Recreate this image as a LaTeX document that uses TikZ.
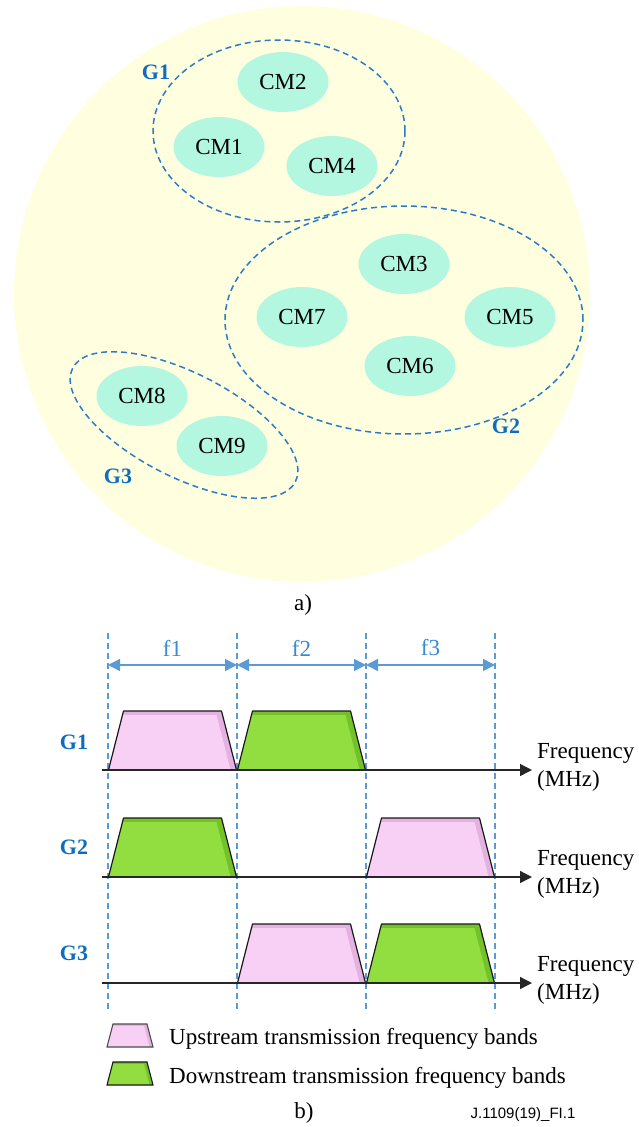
\documentclass[tikz,border=0pt]{standalone}
\usepackage{fontspec}
\setmainfont{Liberation Serif}
\newfontfamily\idfont{Liberation Sans}
\usetikzlibrary{shapes.geometric,arrows.meta}
\definecolor{bgyellow}{HTML}{FFFFE0}
\definecolor{mint}{HTML}{B4F7E0}
\definecolor{grpblue}{HTML}{2A7CC7}
\definecolor{lblblue}{HTML}{0F6DBF}
\definecolor{guideblue}{HTML}{5B9BD5}
\definecolor{ftext}{HTML}{3A8AD0}
\definecolor{pinklight}{HTML}{F8D0F6}
\definecolor{pinkdark}{HTML}{E4B2E0}
\definecolor{greenlight}{HTML}{92DE40}
\definecolor{greendark}{HTML}{74C22A}
\newcommand{\trapband}[4]{%
  \fill[#3] (#1,#2) -- ++(15,59) -- ++(98,0) -- ++(15,-59) -- cycle;
  \fill[#4] (#1,#2) -- ++(14,55) -- ++(94,0) -- ++(14,-55) -- cycle;
  \draw[bandline] (#1,#2) -- ++(15,59) -- ++(98,0) -- ++(15,-59) -- cycle;
}
\begin{document}
\begin{tikzpicture}[x=1pt,y=1pt,
 cmnode/.style={ellipse, fill=mint, minimum width=91pt, minimum height=60pt, inner sep=0pt, font=\fontsize{23}{27}\selectfont},
 grp/.style={ellipse, draw=grpblue, line width=1.5pt, dash pattern=on 6pt off 4pt, inner sep=0pt},
 glabel/.style={text=lblblue, font=\fontsize{22}{26}\selectfont\bfseries, inner sep=0pt},
 txt/.style={font=\fontsize{23}{27}\selectfont, inner sep=0pt},
 flabel/.style={font=\fontsize{23}{28}\selectfont, inner sep=0pt, align=left, anchor=west},
 guide/.style={draw=guideblue, line width=1.2pt, dash pattern=on 6pt off 4pt},
 spanarrow/.style={draw=guideblue, line width=1.5pt, {Triangle[length=12pt,width=12pt]}-{Triangle[length=12pt,width=12pt]}},
 axisarrow/.style={draw=black!85, line width=1.3pt, -{Triangle[length=12pt,width=12pt]}},
 bandline/.style={draw=black!90, line width=1.2pt, line join=round}
]
\useasboundingbox (0,0) rectangle (638,-1127);

% ---------- part a) ----------
\fill[bgyellow] (302,-294) circle (288);

\node[grp, minimum width=252pt, minimum height=182pt] (G1e) at (279,-131) {};
\node[grp, minimum width=358pt, minimum height=228pt] (G2e) at (404,-320) {};
\node[grp, minimum width=250pt, minimum height=104pt, rotate=-27] (G3e) at (184,-425) {};

\node[cmnode] (CM2) at (283,-82) {CM2};
\node[cmnode] (CM1) at (219,-147) {CM1};
\node[cmnode] (CM4) at (332,-166) {CM4};
\node[cmnode] (CM3) at (404,-264) {CM3};
\node[cmnode] (CM7) at (302,-317) {CM7};
\node[cmnode] (CM5) at (510,-317) {CM5};
\node[cmnode] (CM6) at (410,-366) {CM6};
\node[cmnode] (CM8) at (142,-396) {CM8};
\node[cmnode] (CM9) at (222,-446) {CM9};

\node[glabel] (G1a) at (156,-72) {G1};
\node[glabel] (G2a) at (506,-426) {G2};
\node[glabel] (G3a) at (118,-476) {G3};

\node[txt] (capa) at (303,-605) {a)};

% ---------- part b) ----------
\foreach \i/\x in {1/108,2/237,3/366,4/495}{
  \coordinate (t\i) at (\x,-633);
  \coordinate (b\i) at (\x,-1013);
  \coordinate (s\i) at (\x,-665);
}
\foreach \i in {1,2,3,4}{ \draw[guide] (t\i) -- (b\i); }

\draw[spanarrow] (s1) -- (s2);
\draw[spanarrow] (s2) -- (s3);
\draw[spanarrow] (s3) -- (s4);
\node[txt, text=ftext] (f1) at (172.5,-648) {f1};
\node[txt, text=ftext] (f2) at (301.5,-648) {f2};
\node[txt, text=ftext] (f3) at (430.5,-648) {f3};

% bands
\trapband{108.5}{-770}{pinkdark}{pinklight}
\trapband{237.5}{-770}{greendark}{greenlight}
\trapband{108.5}{-877}{greendark}{greenlight}
\trapband{366.5}{-877}{pinkdark}{pinklight}
\trapband{237.5}{-983}{pinkdark}{pinklight}
\trapband{366.5}{-983}{greendark}{greenlight}

% axes
\foreach \i/\y in {1/770,2/877,3/983}{
  \coordinate (as\i) at (102,-\y);
  \coordinate (ae\i) at (532,-\y);
  \draw[axisarrow] (as\i) -- (ae\i);
}
\node[flabel] (fq1) at (537,-767) {Frequency\\(MHz)};
\node[flabel] (fq2) at (537,-874) {Frequency\\(MHz)};
\node[flabel] (fq3) at (537,-980) {Frequency\\(MHz)};

\node[glabel] (G1b) at (74,-742) {G1};
\node[glabel] (G2b) at (74,-847) {G2};
\node[glabel] (G3b) at (74,-953) {G3};

% legend
\fill[pinkdark] (107,-1047) -- (113,-1024) -- (147,-1024) -- (153,-1047) -- cycle;
\fill[pinklight] (107,-1047) -- (112.5,-1026) -- (144,-1026) -- (149.5,-1047) -- cycle;
\draw[line width=1.1pt, draw=black!70] (107,-1047) -- (113,-1024) -- (147,-1024) -- (153,-1047) -- cycle;
\fill[greendark] (107,-1085) -- (113,-1062) -- (147,-1062) -- (153,-1085) -- cycle;
\fill[greenlight] (107,-1085) -- (112.5,-1064) -- (144,-1064) -- (149.5,-1085) -- cycle;
\draw[line width=1.1pt, draw=black!90] (107,-1085) -- (113,-1062) -- (147,-1062) -- (153,-1085) -- cycle;
\node[txt, anchor=base west] (legup) at (169,-1044) {Upstream transmission frequency bands};
\node[txt, anchor=base west] (legdn) at (169,-1083) {Downstream transmission frequency bands};

\node[txt] (capb) at (304,-1113) {b)};
\node[font=\idfont\fontsize{15}{18}\selectfont, inner sep=0pt] (figid) at (523,-1115) {J.1109(19)\_FI.1};
\end{tikzpicture}
\end{document}
